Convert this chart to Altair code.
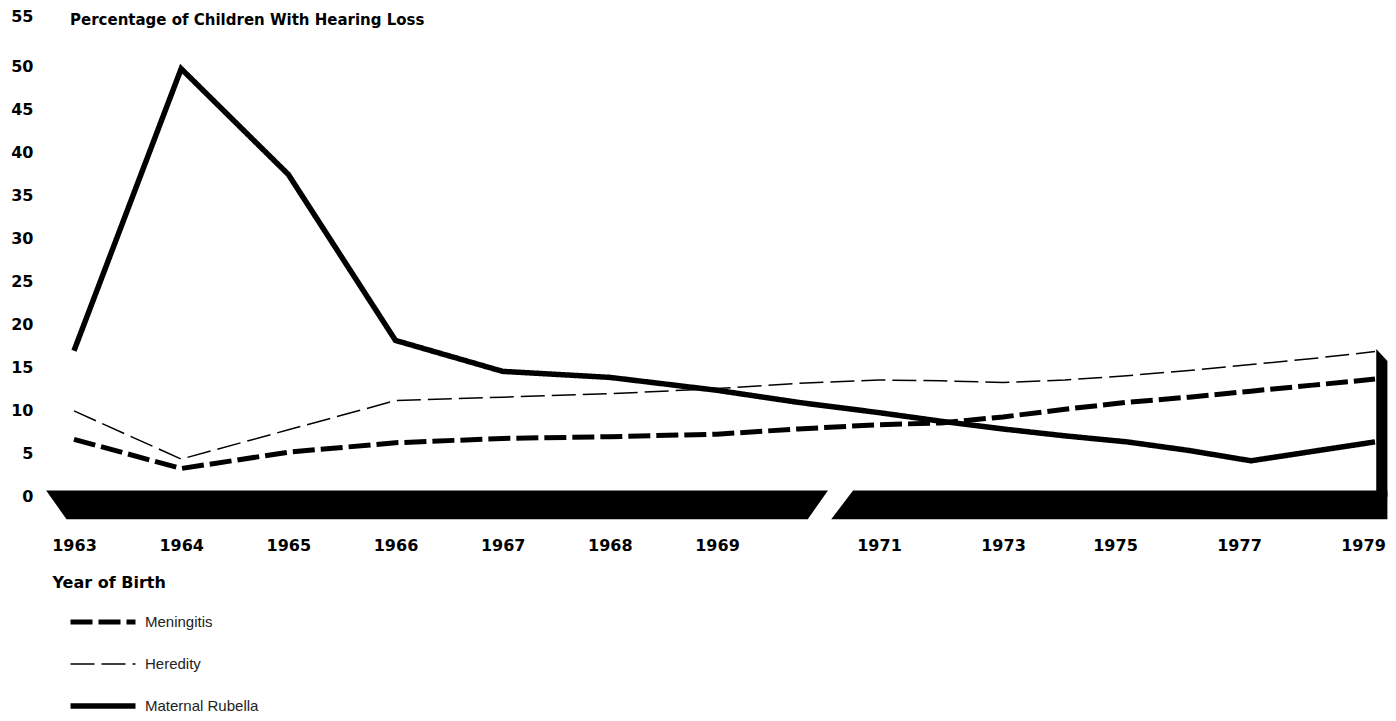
import altair as alt
import pandas as pd

# ---- data ----
years = [1963, 1964, 1965, 1966, 1967, 1968, 1969, 1970, 1971,
         1972, 1973, 1974, 1975, 1976, 1977, 1978, 1979]
meningitis = [6.7, 3.3, 5.2, 6.3, 6.8, 7.0, 7.3, 7.9, 8.4,
              8.6, 9.3, 10.2, 11.0, 11.6, 12.3, 13.0, 13.7]
heredity = [10.0, 4.4, 7.8, 11.2, 11.6, 12.0, 12.6, 13.2, 13.6,
            13.5, 13.3, 13.6, 14.1, 14.7, 15.4, 16.1, 16.9]
rubella = [17.0, 49.8, 37.5, 18.2, 14.6, 13.9, 12.4, 11.0, 9.8,
           8.8, 7.9, 7.1, 6.4, 5.4, 4.2, 5.3, 6.4]

causes = ["Meningitis", "Heredity", "Maternal Rubella"]
tick_years = [1963, 1964, 1965, 1966, 1967, 1968, 1969, 1971, 1973, 1975, 1977, 1979]
y_ticks = [0, 5, 10, 15, 20, 25, 30, 35, 40, 45, 50, 55]

# decorative black base band (in data units: years / percent)
band_x = [1962.74, 1962.93, 1970.12, 1970.37, 1970.41, 1970.68, 1979.2]
band_top = [0.75, 0.75, 0.75, 0.75, -2.6, 0.75, 0.75]
band_bottom = [0.75, -2.6, -2.6, 0.75, -2.6, -2.6, -2.6]
band_piece = ["a", "a", "a", "a", "b", "b", "b"]
wall_x = [1979.02, 1979.2]
wall_top = [17.2, 15.8]
wall_bottom = [0.0, 0.0]

# ---- tables ----
rows = []
for name, vals in zip(causes, [meningitis, heredity, rubella]):
    for yr, v in zip(years, vals):
        rows.append({"year": yr, "cause": name, "value": v})
df = pd.DataFrame(rows)
band_df = pd.DataFrame({"x": band_x, "top": band_top, "bottom": band_bottom, "piece": band_piece})
wall_df = pd.DataFrame({"x": wall_x, "top": wall_top, "bottom": wall_bottom})

FONT = "DejaVu Sans"

# broken (piecewise) year axis: yearly to 1969, then compressed after the break
xscale = alt.Scale(domain=[1963, 1969, 1971, 1979], range=[34, 677, 839, 1335],
                   zero=False, nice=False)
yscale = alt.Scale(domain=[-3.5, 55], zero=False, nice=False)

xaxis = alt.Axis(values=tick_years, format="d", title="Year of Birth",
                 domain=False, ticks=False, grid=False, labelFlush=False,
                 labelOverlap=False, labelFont=FONT, labelFontWeight="bold",
                 labelFontSize=16, labelColor="black", labelPadding=10,
                 labelOffset={"condition": {"test": "datum.value >= 1975", "value": -12},
                              "value": 0},
                 titleFont=FONT, titleFontWeight="bold", titleFontSize=16,
                 titleColor="black", titleX=12, titleY=55, titleAlign="left",
                 titleBaseline="middle")
yaxis = alt.Axis(values=y_ticks, title=None, domain=False, ticks=False, grid=False,
                 labelFont=FONT, labelFontWeight="bold", labelFontSize=16,
                 labelColor="black", labelPadding=7, labelAlign="right",
                 labelOffset={"condition": {"test": "datum.value == 55", "value": -8}, "value": 0})

legend = alt.Legend(title=None, orient="none", legendX=52, legendY=587,
                    symbolType="M-4,0L4,0", symbolSize=264, symbolStrokeColor="black",
                    labelFont="Liberation Sans", labelFontSize=15, labelColor="#222",
                    labelOffset=31, rowPadding=23, padding=0)

lines = alt.Chart(df).mark_line(color="black", strokeJoin="miter").encode(
    x=alt.X("year:Q", scale=xscale, axis=xaxis),
    y=alt.Y("value:Q", scale=yscale, axis=yaxis),
    strokeDash=alt.StrokeDash("cause:N",
                              scale=alt.Scale(type="ordinal", domain=causes,
                                              range=[[22, 6], [24, 7], [1, 0]]),
                              legend=legend),
    strokeWidth=alt.StrokeWidth("cause:N",
                                scale=alt.Scale(type="ordinal", domain=causes,
                                                range=[5, 1.5, 5.5]),
                                legend=legend),
)

band = alt.Chart(band_df).mark_area(color="black", interpolate="linear").encode(
    x=alt.X("x:Q", scale=xscale, axis=xaxis),
    y=alt.Y("top:Q", scale=yscale, axis=yaxis),
    y2="bottom:Q",
    detail="piece:N",
)

wall = alt.Chart(wall_df).mark_area(color="black", interpolate="linear").encode(
    x=alt.X("x:Q", scale=xscale, axis=xaxis),
    y=alt.Y("top:Q", scale=yscale, axis=yaxis),
    y2="bottom:Q",
)

chart = alt.layer(lines, band, wall).properties(
    width=1348,
    height=503,
    autosize="none",
    background="white",
    padding={"left": 32, "top": 16, "right": 0, "bottom": 186},
    title=alt.TitleParams("Percentage of Children With Hearing Loss", anchor="start",
                          frame="group", dx=30, offset=0, dy=27, baseline="middle",
                          font=FONT, fontSize=15, fontWeight="bold", color="black"),
).configure_view(stroke=None, strokeWidth=0)

chart.save("out.html", embed_options={"renderer": "svg", "actions": False})
